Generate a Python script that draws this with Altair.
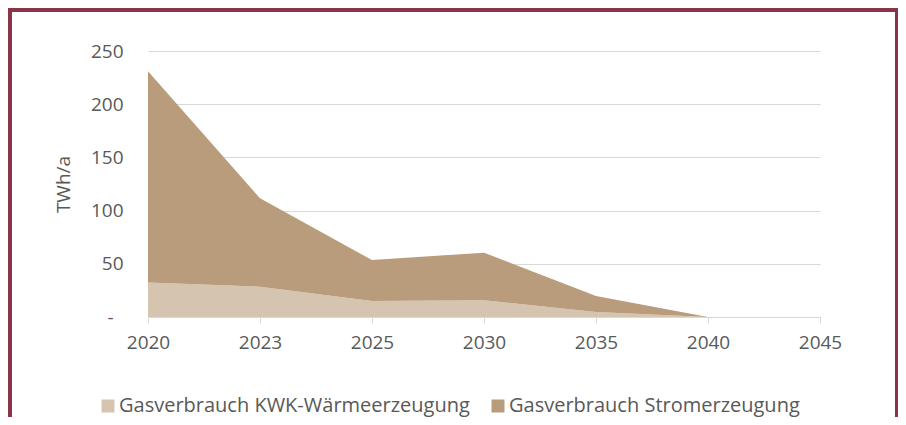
import altair as alt
import pandas as pd

years = ["2020", "2023", "2025", "2030", "2035", "2040", "2045"]
data_years = ["2020", "2023", "2025", "2030", "2035", "2040"]
kwk_waerme = [32.5, 28.5, 15.0, 15.8, 4.8, 0.0]
strom_total = [231.0, 111.5, 53.5, 60.5, 19.8, 0.0]
strom = [round(t - k, 1) for t, k in zip(strom_total, kwk_waerme)]
series = ["Gasverbrauch KWK-Wärmeerzeugung", "Gasverbrauch Stromerzeugung"]
colors = ["#D5C4B0", "#B99C7B"]

rows = []
for i, y in enumerate(data_years):
    rows.append({"Jahr": y, "Serie": series[0], "Wert": kwk_waerme[i], "ord": 0})
    rows.append({"Jahr": y, "Serie": series[1], "Wert": strom[i], "ord": 1})
df = pd.DataFrame(rows)

TEXT = "#595959"
GRID = "#D9D9D9"
MAROON = "#8B3449"
FONT = "Open Sans"

W, H = 672, 266
one = pd.DataFrame({"a": [0]})


def border(x1, x2, y1, y2):
    return alt.Chart(one).mark_rect(color=MAROON).encode(
        x=alt.value(x1), x2=alt.value(x2), y=alt.value(y1), y2=alt.value(y2)
    )


frame_top = border(-140, 750, -43, -39)
frame_left = border(-140, -136, -43, 370)
frame_right = border(747, 750, -43, 370)

area = alt.Chart(df).mark_area(opacity=1).encode(
    x=alt.X(
        "Jahr:O",
        scale=alt.Scale(type="point", domain=years, padding=0),
        axis=alt.Axis(
            title=None, labelAngle=0, labelFontSize=19, labelColor=TEXT,
            labelFont=FONT, domainColor=GRID, tickColor=GRID, tickSize=6,
            labelPadding=10, grid=False,
        ),
    ),
    y=alt.Y(
        "Wert:Q",
        stack="zero",
        scale=alt.Scale(domain=[0, 250]),
        axis=alt.Axis(
            title="TWh/a", titleFontSize=19, titleFont=FONT, titleColor=TEXT,
            titleFontWeight="normal", titlePadding=17,
            values=[0, 50, 100, 150, 200, 250],
            labelExpr="datum.value == 0 ? '-' : datum.label",
            labelFontSize=19, labelFont=FONT, labelColor=TEXT,
            labelPadding={"condition": {"test": "datum.value == 0", "value": 35}, "value": 25},
            domain=False, ticks=False, grid=True, gridColor=GRID,
        ),
    ),
    color=alt.Color(
        "Serie:N",
        scale=alt.Scale(domain=series, range=colors),
        legend=alt.Legend(
            title=None, orient="none", direction="horizontal",
            legendX=-50, legendY=345, symbolType="square", symbolSize=169,
            symbolStrokeWidth=0, labelFontSize=20, labelFont=FONT,
            labelColor=TEXT, labelOffset=1, columnPadding=18, padding=0,
            labelLimit=500,
        ),
    ),
    order=alt.Order("ord:Q"),
)

chart = alt.layer(area, frame_top, frame_left, frame_right).properties(
    width=W, height=H,
    padding={"left": 140, "top": 43, "right": 78, "bottom": 100},
    autosize=alt.AutoSizeParams(type="none"),
    background="white",
).configure_view(stroke=None)

chart.save("out.html", embed_options={"renderer": "svg", "actions": False})
